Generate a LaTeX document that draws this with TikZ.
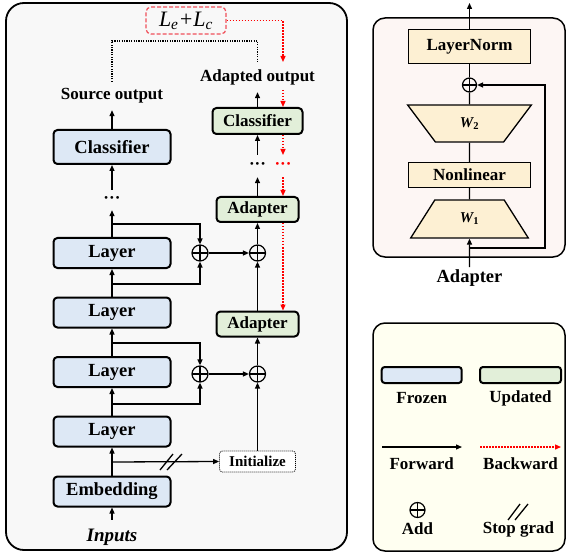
\documentclass[tikz,border=0pt]{standalone}
\usepackage{fontspec}
\setmainfont{Liberation Serif}
\usetikzlibrary{arrows.meta,shapes.geometric,calc}
\definecolor{frozen}{HTML}{DDE8F5}
\definecolor{updated}{HTML}{E2EFD9}
\definecolor{beige}{HTML}{FDF0D3}
\definecolor{panelL}{HTML}{F8F8F8}
\definecolor{panelA}{HTML}{FDF6F4}
\definecolor{panelG}{HTML}{FFFFF1}
\definecolor{lossred}{HTML}{F0505A}
\begin{document}
\begin{tikzpicture}[x=1pt,y=-1pt,
  >={Triangle[length=6pt,width=5pt]},
  conn/.style={line width=1.3pt},
  back/.style={red, line width=1.3pt, dash pattern=on 1.5pt off 1.5pt},
  blk/.style={draw, line width=2pt, rounded corners=4pt, inner sep=0pt, font=\fontsize{18.5}{20}\selectfont\bfseries},
  frz/.style={blk, fill=frozen, minimum width=117pt},
  upd/.style={blk, fill=updated, font=\fontsize{17}{20}\selectfont\bfseries},
  plus/.style={circle, draw, line width=1.2pt, minimum size=16pt, inner sep=0pt,
    path picture={\draw[line width=1.2pt] (path picture bounding box.north) -- (path picture bounding box.south) (path picture bounding box.west) -- (path picture bounding box.east);}},
  lbl/.style={inner sep=0pt, font=\fontsize{17}{20}\selectfont\bfseries},
  bge/.style={draw, line width=1.3pt, fill=beige, inner sep=0pt, font=\fontsize{17}{20}\selectfont\bfseries},
]
\useasboundingbox (0,0) rectangle (567,553);
% ---------- left panel ----------
\draw[line width=1.8pt, fill=panelL, rounded corners=18pt] (6,3) rectangle (347,550);

\node[frz, minimum height=34pt] (clsL) at (112,147) {Classifier};
\node[frz, minimum height=30pt] (l1) at (112,253) {Layer};
\node[frz, minimum height=30pt] (l2) at (112,312.5) {Layer};
\node[frz, minimum height=30pt] (l3) at (112,372) {Layer};
\node[frz, minimum height=30pt] (l4) at (112,431.5) {Layer};
\node[frz, minimum height=30pt] (emb) at (112,491.5) {Embedding};
\node[inner sep=0pt, font=\fontsize{19}{20}\selectfont\bfseries\itshape, minimum height=34pt] (inp) at (112,537) {Inputs};
\node[lbl, minimum height=20pt] (dotsL) at (112,200) {···};
\node[lbl, minimum height=28pt] (srcout) at (112,96) {Source output};

\node[upd, minimum width=90pt, minimum height=26pt] (clsR) at (257.5,121) {Classifier};
\node[upd, minimum width=82pt, minimum height=25pt] (ad1) at (257.5,209.5) {Adapter};
\node[upd, minimum width=82pt, minimum height=25pt] (ad2) at (257.5,324) {Adapter};
\node[draw, line width=0.8pt, dash pattern=on 1pt off 1pt, rounded corners=3pt, fill=white, minimum width=76pt, minimum height=21pt, inner sep=0pt, font=\fontsize{15}{17}\selectfont\bfseries] (init) at (257.5,461.5) {Initialize};
\node[lbl, minimum height=22pt] (dotsR) at (257.5,166) {···};
\node[lbl, minimum height=30pt] (adout) at (257.5,77) {Adapted output};

\node[plus] (pL1) at (200,253) {};
\node[plus] (pR1) at (257.5,253) {};
\node[plus] (pL2) at (200,374) {};
\node[plus] (pR2) at (257.5,374) {};

\node[draw=lossred, line width=1.2pt, dash pattern=on 4pt off 2pt, rounded corners=5pt, minimum width=80pt, minimum height=27pt, inner sep=0pt, font=\fontsize{22}{24}\selectfont\itshape] (loss) at (186,20.5) {L\textsubscript{e}+L\textsubscript{c}};

% forward connectors
\draw[conn,->] (inp) -- (emb);
\draw[conn,->] (emb) -- (l4);
\coordinate (b0) at (112,462);
\draw[conn,->] (b0) -- (init.west);
\coordinate (sg) at (171,462);
\draw[line width=1.3pt] ($(sg)+(-11,8)$) -- ($(sg)+(2,-8)$) ($(sg)+(-4,8)$) -- ($(sg)+(11,-8)$);
\draw[conn,->] (init) -- (pR2);
\draw[conn,->] (l4) -- (l3);
\coordinate (b1) at (112,404);
\draw[conn,->] (b1) -| (pL2.south);
\draw[conn,->] (l3) -- (l2);
\coordinate (b2) at (112,343);
\draw[conn,->] (b2) -| (pL2.north);
\draw[conn,->] (pL2) -- (pR2);
\draw[conn,->] (pR2) -- (ad2);
\draw[conn,->] (ad2) -- (pR1);
\draw[conn,->] (l2) -- (l1);
\coordinate (b3) at (112,284);
\draw[conn,->] (b3) -| (pL1.south);
\draw[conn,->] (l1) -- (dotsL);
\coordinate (b4) at (112,224);
\draw[conn,->] (b4) -| (pL1.north);
\draw[conn,->] (pL1) -- (pR1);
\draw[conn,->] (pR1) -- (ad1);
\draw[conn,->] (ad1) -- (dotsR);
\draw[conn,->] (dotsR) -- (clsR);
\draw[conn,->] (dotsL) -- (clsL);
\draw[conn,->] (clsL) -- (srcout);
\draw[conn,->] (clsR) -- (adout);
\coordinate (dtop) at (112,41);
\draw[line width=1.2pt, dash pattern=on 1.2pt off 1.2pt] (srcout.north) -- (dtop) -| (adout.north);

% backward
\coordinate (rx) at (283,0);
\coordinate (r0) at (283,62);
\coordinate (r1) at (283,90);
\coordinate (r2) at (283,155);
\draw[back,->] (loss.east) -| (r0);
\draw[back,->] (r1) -- (clsR.north -| rx);
\draw[back,->] (clsR.south -| rx) -- (r2);
\node[lbl, text=red, minimum height=22pt] (dotsRR) at (283,166) {···};
\draw[back,->] (dotsRR) -- (ad1.north -| rx);
\draw[back,->] (ad1.south -| rx) -- (ad2.north -| rx);

% ---------- adapter panel ----------
\draw[line width=1.5pt, fill=panelA, rounded corners=12pt] (373,18) rectangle (565,257);
\node[bge, minimum width=122pt, minimum height=34pt] (ln) at (469.5,46.5) {LayerNorm};
\node[plus, minimum size=14pt] (pA) at (469.5,85) {};
\node[bge, trapezium, shape border rotate=180, trapezium angle=57, trapezium stretches=true, minimum width=124pt, minimum height=37pt, font=\fontsize{15}{17}\selectfont\bfseries\itshape] (w2) at (469.5,123.5) {W\textsubscript{\upshape 2}};
\node[bge, minimum width=122pt, minimum height=25pt] (nl) at (469.5,175) {Nonlinear};
\node[bge, trapezium, trapezium angle=61, trapezium stretches=true, minimum width=118pt, minimum height=38pt, font=\fontsize{15}{17}\selectfont\bfseries\itshape] (w1) at (469.5,219) {W\textsubscript{\upshape 1}};
\coordinate (aTop) at (469.5,3);
\draw[conn,->] (ln) -- (aTop);
\draw[conn] (pA) -- (ln);
\draw[conn] (w2) -- (pA);
\draw[conn] (nl) -- (w2);
\draw[conn] (w1) -- (nl);
\coordinate (aIn) at (469.5,267);
\draw[conn,->] (aIn) -- (w1.south);
\coordinate (aB) at (469.5,248);
\coordinate (aR) at (545,248);
\draw[conn,->] (aB) -- (aR) |- (pA.east);
\node[lbl, font=\fontsize{18.5}{20}\selectfont\bfseries] (adlbl) at (469.5,278) {Adapter};

% ---------- legend ----------
\draw[line width=1.5pt, fill=panelG, rounded corners=12pt] (373,323) rectangle (565,551);
\node[blk, fill=frozen, minimum width=80pt, minimum height=16pt, rounded corners=3pt] (lgF) at (421.7,375) {};
\node[blk, fill=updated, minimum width=81pt, minimum height=16pt, rounded corners=3pt] (lgU) at (520.5,375) {};
\node[lbl] (tF) at (421.7,398) {Frozen};
\node[lbl] (tU) at (520.5,398) {Updated};
\coordinate (fa) at (382,447);
\coordinate (fb) at (462,447);
\draw[conn,->] (fa) -- (fb);
\coordinate (ba) at (480,447);
\coordinate (bb) at (561,447);
\draw[back,->] (ba) -- (bb);
\node[lbl] (tFw) at (421.7,463.5) {Forward};
\node[lbl] (tBw) at (520.5,463.5) {Backward};
\node[plus, minimum size=15pt] (lgP) at (417.5,510) {};
\coordinate (sg2) at (518,512);
\draw[line width=1.3pt] ($(sg2)+(-10,8)$) -- ($(sg2)+(2,-8)$) ($(sg2)+(-3,8)$) -- ($(sg2)+(10,-8)$);
\node[lbl] (tAdd) at (417.5,529) {Add};
\node[lbl] (tSg) at (518.5,529.5) {Stop grad};
\end{tikzpicture}
\end{document}
